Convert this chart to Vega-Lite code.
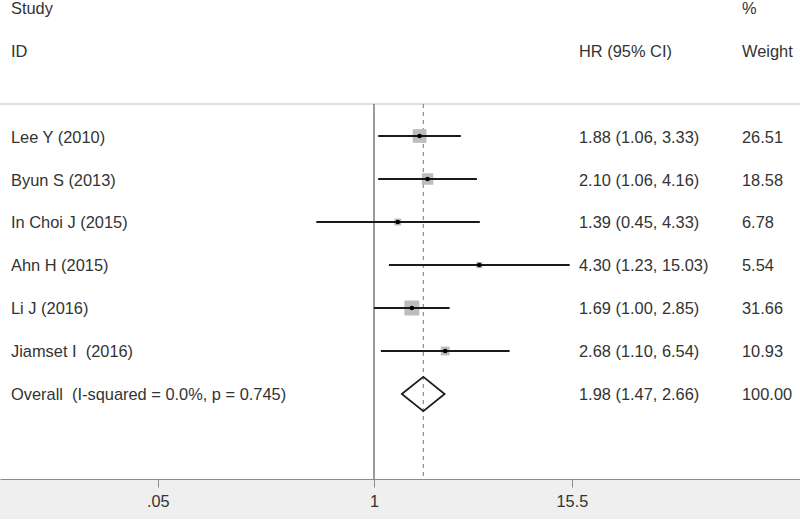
{
  "$schema": "https://vega.github.io/schema/vega-lite/v6.json",
  "width": 800,
  "height": 479,
  "autosize": "none",
  "padding": {"left": 0, "top": 0, "right": 0, "bottom": 40},
  "background": "#efefef",
  "config": {
    "view": {"fill": "white", "stroke": null},
    "font": "Liberation Sans",
    "axisY": {"disable": true},
    "axisX": {
      "domainColor": "#8c8c8c",
      "domainWidth": 1.2,
      "tickColor": "#8c8c8c",
      "tickSize": 8,
      "labelFontSize": 16.3,
      "labelColor": "#333333",
      "labelPadding": 6,
      "labelFont": "Liberation Sans",
      "grid": false
    }
  },
  "datasets": {
    "table": [
      {"row": -2, "study": "Study", "ci": "", "weight": "%"},
      {"row": -1, "study": "ID", "ci": "HR (95% CI)", "weight": "Weight"},
      {"row": 1, "study": "Lee Y (2010)", "hr": 1.88, "lo": 1.06, "hi": 3.33, "w": 26.51, "ci": "1.88 (1.06, 3.33)", "weight": "26.51"},
      {"row": 2, "study": "Byun S (2013)", "hr": 2.10, "lo": 1.06, "hi": 4.16, "w": 18.58, "ci": "2.10 (1.06, 4.16)", "weight": "18.58"},
      {"row": 3, "study": "In Choi J (2015)", "hr": 1.39, "lo": 0.45, "hi": 4.33, "w": 6.78, "ci": "1.39 (0.45, 4.33)", "weight": "6.78"},
      {"row": 4, "study": "Ahn H (2015)", "hr": 4.30, "lo": 1.23, "hi": 15.03, "w": 5.54, "ci": "4.30 (1.23, 15.03)", "weight": "5.54"},
      {"row": 5, "study": "Li J (2016)", "hr": 1.69, "lo": 1.00, "hi": 2.85, "w": 31.66, "ci": "1.69 (1.00, 2.85)", "weight": "31.66"},
      {"row": 6, "study": "Jiamset I\u00a0 (2016)", "hr": 2.68, "lo": 1.10, "hi": 6.54, "w": 10.93, "ci": "2.68 (1.10, 6.54)", "weight": "10.93"},
      {"row": 7, "study": "Overall\u00a0 (I-squared = 0.0%, p = 0.745)", "hr": 1.98, "lo": 1.47, "hi": 2.66, "w": 100, "ci": "1.98 (1.47, 2.66)", "weight": "100.00"}
    ],
    "diamond": [
      {"hr": 1.47, "top": 7, "bottom": 7},
      {"hr": 1.98, "top": 6.6, "bottom": 7.4},
      {"hr": 2.66, "top": 7, "bottom": 7}
    ]
  },
  "layer": [
    {
      "layer": [
        {
          "data": {"values": [{}]},
          "mark": {"type": "rule", "color": "#d4d4d4", "strokeWidth": 1.3},
          "encoding": {
            "y": {"datum": 0.256, "type": "quantitative", "scale": {"domain": [-2.163, 8.977], "reverse": true, "nice": false, "zero": false}}
          }
        },
        {
          "data": {"values": [{}]},
          "mark": {"type": "rule", "color": "#666666", "strokeWidth": 1.3},
          "encoding": {
            "x": {"datum": 1, "type": "quantitative", "title": null, "scale": {"type": "log", "domain": [0.00563, 365], "nice": false}},
            "y": {"datum": 0.256, "type": "quantitative", "scale": {"domain": [-2.163, 8.977], "reverse": true, "nice": false, "zero": false}},
            "y2": {"datum": 8.977}
          }
        },
        {
          "data": {"values": [{}]},
          "mark": {"type": "rule", "color": "#8a8a8a", "strokeWidth": 1.2, "strokeDash": [4, 4]},
          "encoding": {
            "x": {"datum": 1.98, "type": "quantitative", "title": null, "scale": {"type": "log", "domain": [0.00563, 365], "nice": false}},
            "y": {"datum": 0.256, "type": "quantitative", "scale": {"domain": [-2.163, 8.977], "reverse": true, "nice": false, "zero": false}},
            "y2": {"datum": 8.977}
          }
        },
        {
          "data": {"name": "table"},
          "transform": [{"filter": "datum.row >= 1 && datum.row <= 6"}],
          "mark": {"type": "point", "shape": "square", "filled": true, "color": "#bdbdbd", "opacity": 1},
          "encoding": {
            "x": {"field": "hr", "type": "quantitative", "title": null, "scale": {"type": "log", "domain": [0.00563, 365], "nice": false}},
            "y": {"field": "row", "type": "quantitative", "scale": {"domain": [-2.163, 8.977], "reverse": true, "nice": false, "zero": false}},
            "size": {"field": "w", "type": "quantitative", "scale": {"domain": [0, 31.66], "range": [0, 225]}, "legend": null}
          }
        },
        {
          "data": {"name": "table"},
          "transform": [{"filter": "datum.row >= 1 && datum.row <= 6"}],
          "mark": {"type": "rule", "color": "#1a1a1a", "strokeWidth": 1.8},
          "encoding": {
            "x": {
              "field": "lo", "type": "quantitative", "title": null,
              "scale": {"type": "log", "domain": [0.00563, 365], "nice": false},
              "axis": {"values": [0.05, 1, 15.5], "labelExpr": "datum.value == 0.05 ? '.05' : toString(datum.value)", "title": null}
            },
            "x2": {"field": "hi"},
            "y": {"field": "row", "type": "quantitative", "scale": {"domain": [-2.163, 8.977], "reverse": true, "nice": false, "zero": false}}
          }
        },
        {
          "data": {"name": "table"},
          "transform": [{"filter": "datum.row >= 1 && datum.row <= 6"}],
          "mark": {"type": "point", "shape": "circle", "filled": true, "color": "#000000", "size": 22, "opacity": 1},
          "encoding": {
            "x": {"field": "hr", "type": "quantitative", "title": null, "scale": {"type": "log", "domain": [0.00563, 365], "nice": false}},
            "y": {"field": "row", "type": "quantitative", "scale": {"domain": [-2.163, 8.977], "reverse": true, "nice": false, "zero": false}}
          }
        },
        {
          "data": {"name": "diamond"},
          "mark": {"type": "area", "fill": null, "fillOpacity": 0, "stroke": "#1a1a1a", "strokeWidth": 1.7, "interpolate": "linear", "orient": "vertical"},
          "encoding": {
            "x": {"field": "hr", "type": "quantitative", "title": null, "scale": {"type": "log", "domain": [0.00563, 365], "nice": false}},
            "y": {"field": "top", "type": "quantitative", "scale": {"domain": [-2.163, 8.977], "reverse": true, "nice": false, "zero": false}},
            "y2": {"field": "bottom"}
          }
        }
      ]
    },
    {
      "data": {"name": "table"},
      "mark": {"type": "text", "align": "left", "baseline": "middle", "fontSize": 16.4, "color": "#333333", "dy": 1.5},
      "encoding": {
        "x": {"datum": "Study", "type": "nominal", "scale": {"type": "point", "range": [11, 11]}, "axis": null},
        "y": {"field": "row", "type": "quantitative", "scale": {"domain": [-2.163, 8.977], "reverse": true, "nice": false, "zero": false}},
        "text": {"field": "study"}
      }
    },
    {
      "data": {"name": "table"},
      "mark": {"type": "text", "align": "left", "baseline": "middle", "fontSize": 16.4, "color": "#333333", "dy": 1.5},
      "encoding": {
        "x": {"datum": "HR (95% CI)", "type": "nominal", "scale": {"type": "point", "range": [579, 579]}, "axis": null},
        "y": {"field": "row", "type": "quantitative", "scale": {"domain": [-2.163, 8.977], "reverse": true, "nice": false, "zero": false}},
        "text": {"field": "ci"}
      }
    },
    {
      "data": {"name": "table"},
      "mark": {"type": "text", "align": "left", "baseline": "middle", "fontSize": 16.4, "color": "#333333", "dy": 1.5},
      "encoding": {
        "x": {"datum": "Weight", "type": "nominal", "scale": {"type": "point", "range": [742, 742]}, "axis": null},
        "y": {"field": "row", "type": "quantitative", "scale": {"domain": [-2.163, 8.977], "reverse": true, "nice": false, "zero": false}},
        "text": {"field": "weight"}
      }
    }
  ],
  "resolve": {"scale": {"x": "independent"}}
}
